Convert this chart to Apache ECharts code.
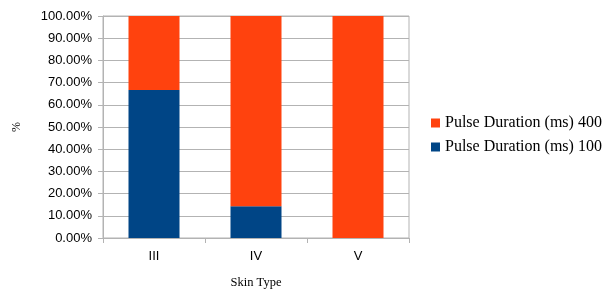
<!DOCTYPE html>
<html>
<head>
<meta charset="utf-8">
<script src="https://cdn.jsdelivr.net/npm/echarts@6/dist/echarts.min.js"></script>
<style>
  html, body { margin: 0; padding: 0; background: #fff; }
  #chart { width: 603px; height: 291px; }
</style>
</head>
<body>
<div id="chart"></div>
<script>
// skin types and share of each pulse duration (percent)
const categories = ["III", "IV", "V"];
const pulse100 = [66.67, 14.29, 0];
const pulse400 = [33.33, 85.71, 100];
const yTicks = [0, 10, 20, 30, 40, 50, 60, 70, 80, 90, 100];

const chart = echarts.init(document.getElementById("chart"));
chart.setOption({
  animation: false,
  grid: {
    left: 103, right: 194, top: 16, bottom: 53,
    outerBoundsMode: "none",
    show: true, borderColor: "#b3b3b3", borderWidth: 1
  },
  legend: {
    orient: "vertical",
    left: 426,
    top: 110,
    itemWidth: 9,
    itemHeight: 9,
    itemGap: 8,
    icon: "rect",
    textStyle: { fontFamily: "Liberation Serif", fontSize: 16, color: "#000" },
    data: ["Pulse Duration (ms) 400", "Pulse Duration (ms) 100"]
  },
  xAxis: {
    type: "category",
    data: categories,
    name: "Skin Type",
    nameLocation: "middle",
    nameGap: 38,
    nameTextStyle: { fontFamily: "Liberation Serif", fontSize: 12.5, color: "#000" },
    axisLine: { lineStyle: { color: "#b3b3b3" } },
    axisTick: { show: true, length: 5, lineStyle: { color: "#b3b3b3" } },
    axisLabel: { fontFamily: "Liberation Sans", fontSize: 13, color: "#000", margin: 12 },
    splitLine: { show: false }
  },
  yAxis: {
    type: "value",
    min: yTicks[0],
    max: yTicks[yTicks.length - 1],
    interval: 10,
    name: "%",
    nameLocation: "middle",
    nameGap: 80,
    nameRotate: 90,
    nameTextStyle: { fontFamily: "Liberation Serif", fontSize: 12, color: "#000" },
    axisLine: { show: true, lineStyle: { color: "#b3b3b3" } },
    axisTick: { show: true, length: 5, lineStyle: { color: "#b3b3b3" } },
    axisLabel: {
      fontFamily: "Liberation Sans", fontSize: 13, color: "#000", margin: 11,
      formatter: v => v.toFixed(2) + "%"
    },
    splitLine: { lineStyle: { color: "#b3b3b3" } }
  },
  series: [
    {
      name: "Pulse Duration (ms) 100",
      type: "bar",
      stack: "total",
      barWidth: "50%",
      itemStyle: { color: "#004586" },
      data: pulse100
    },
    {
      name: "Pulse Duration (ms) 400",
      type: "bar",
      stack: "total",
      barWidth: "50%",
      itemStyle: { color: "#ff420e" },
      data: pulse400
    }
  ]
});
</script>
</body>
</html>
